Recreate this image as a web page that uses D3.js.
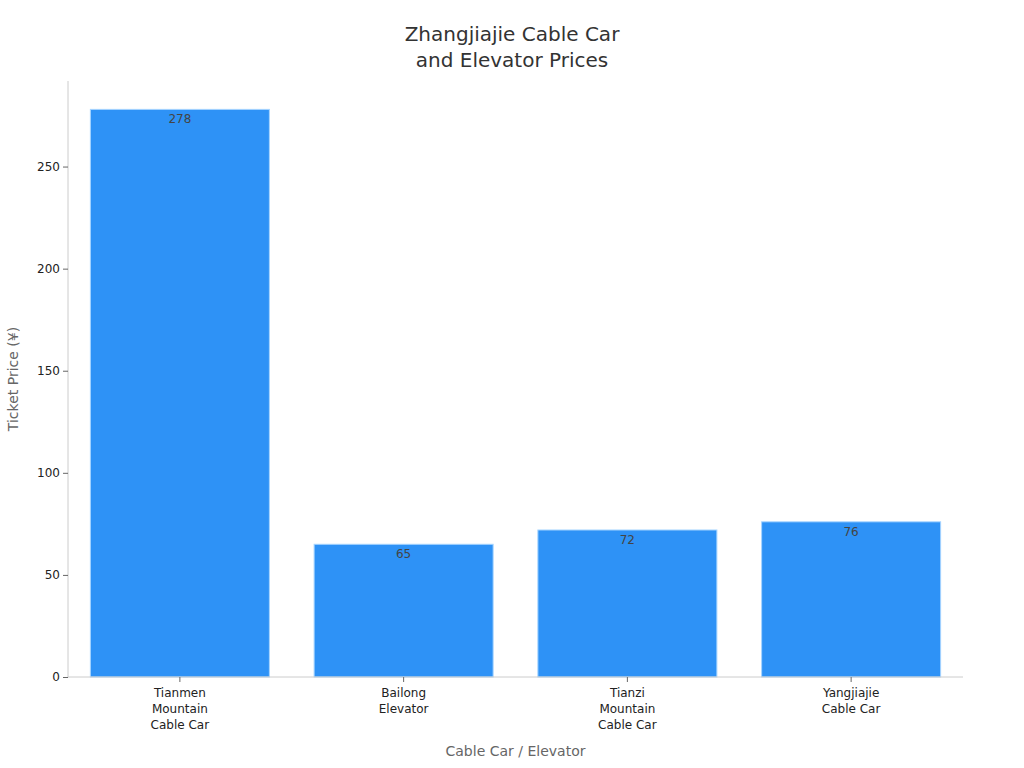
<!DOCTYPE html>
<html>
<head>
<meta charset="utf-8">
<script src="https://cdn.jsdelivr.net/npm/d3@7"></script>
<style>
  html, body { margin: 0; padding: 0; background: #fff; }
  svg { display: block; font-family: "DejaVu Sans", sans-serif; }
</style>
</head>
<body>
<svg id="chart" width="1024" height="768"></svg>
<script>
// data
const categories = [
  ["Tianmen", "Mountain", "Cable Car"],
  ["Bailong", "Elevator"],
  ["Tianzi", "Mountain", "Cable Car"],
  ["Yangjiajie", "Cable Car"]
];
const prices = [278, 65, 72, 76];
const yTicks = [0, 50, 100, 150, 200, 250];

(function () {
  const W = 1024, H = 768;
  const m = { top: 81, right: 61, bottom: 91, left: 68 };
  const iw = W - m.left - m.right;
  const ih = H - m.top - m.bottom;
  const FONT = "DejaVu Sans, sans-serif";

  const svg = d3.select("#chart");
  const g = svg.append("g").attr("transform", `translate(${m.left},${m.top})`);

  const x = d3.scaleBand().domain(d3.range(categories.length)).range([0, iw])
    .paddingInner(0.2).paddingOuter(0.1);
  const y = d3.scaleLinear().domain([0, d3.max(prices) * 1.05]).range([ih, 0]);

  // title
  const title = svg.append("text")
    .attr("x", W / 2).attr("y", 41)
    .attr("text-anchor", "middle")
    .attr("fill", "#333")
    .attr("font-size", 20);
  title.append("tspan").attr("x", W / 2).text("Zhangjiajie Cable Car");
  title.append("tspan").attr("x", W / 2).attr("dy", 26).text("and Elevator Prices");

  // bars
  g.selectAll("rect.bar")
    .data(prices)
    .join("rect")
    .attr("class", "bar")
    .attr("x", (d, i) => x(i))
    .attr("y", (d) => y(d))
    .attr("width", x.bandwidth())
    .attr("height", (d) => ih - y(d))
    .attr("fill", "#2e92f6")
    .attr("stroke", "#a6d4ff")
    .attr("stroke-width", 1);

  g.selectAll("text.val")
    .data(prices)
    .join("text")
    .attr("class", "val")
    .attr("x", (d, i) => x(i) + x.bandwidth() / 2)
    .attr("y", (d) => y(d) + 14)
    .attr("text-anchor", "middle")
    .attr("fill", "#444")
    .attr("font-size", 12)
    .text((d) => d);

  // y axis
  const ya = g.append("g")
    .call(d3.axisLeft(y).tickValues(yTicks).tickSize(5).tickPadding(3));
  ya.attr("font-family", FONT);
  ya.select(".domain").attr("stroke", "#ccc").attr("d", `M0,0V${ih}`);
  ya.selectAll(".tick line").attr("stroke", "#666");
  ya.selectAll(".tick text").attr("fill", "#222").attr("font-size", 12);

  // x axis
  const xa = g.append("g").attr("transform", `translate(0,${ih})`)
    .call(d3.axisBottom(x).tickSize(5).tickFormat(""));
  xa.attr("font-family", FONT);
  xa.select(".domain").attr("stroke", "#ccc").attr("d", `M0,0H${iw}`);
  xa.selectAll(".tick line").attr("stroke", "#666");
  xa.selectAll(".tick text").remove();
  xa.selectAll(".tick").each(function (d) {
    const t = d3.select(this).append("text")
      .attr("y", 20)
      .attr("text-anchor", "middle")
      .attr("fill", "#222")
      .attr("font-size", 12);
    categories[d].forEach((line, k) => {
      t.append("tspan").attr("x", 0).attr("dy", k === 0 ? 0 : 16).text(line);
    });
  });

  // axis titles
  svg.append("text")
    .attr("x", m.left + iw / 2).attr("y", 756)
    .attr("text-anchor", "middle")
    .attr("fill", "#666")
    .attr("font-size", 14)
    .text("Cable Car / Elevator");

  svg.append("text")
    .attr("transform", `translate(18,${m.top + ih / 2}) rotate(-90)`)
    .attr("text-anchor", "middle")
    .attr("fill", "#666")
    .attr("font-size", 14)
    .text("Ticket Price (¥)");
})();
</script>
</body>
</html>
